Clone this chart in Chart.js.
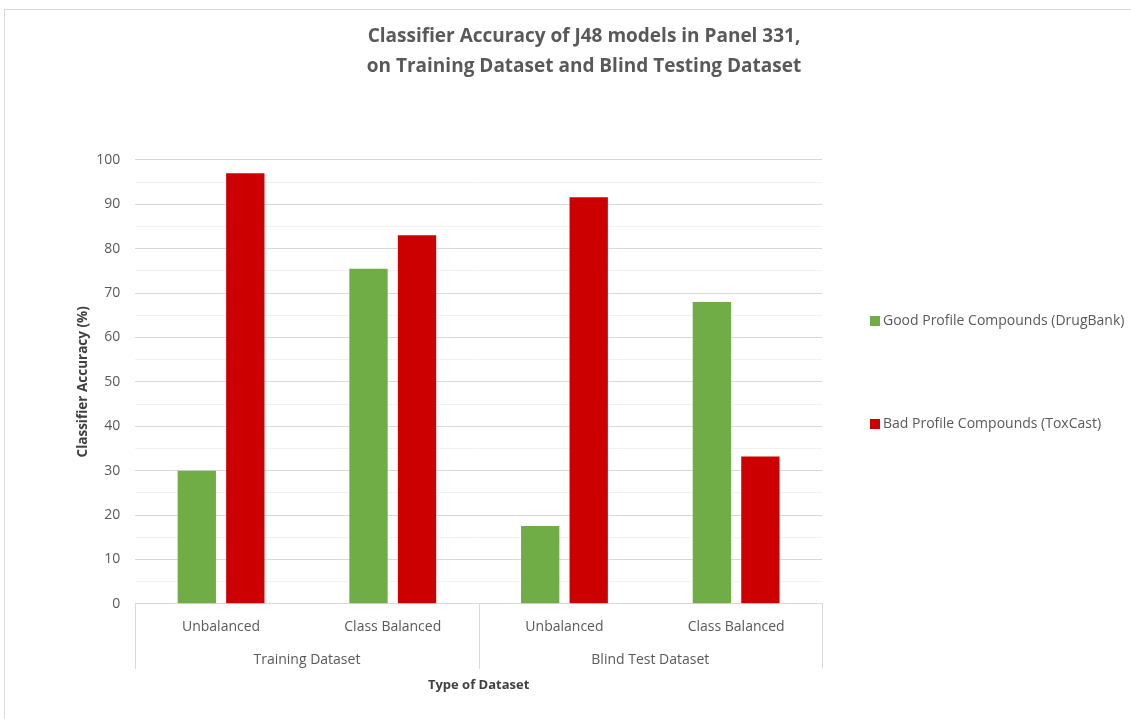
<!DOCTYPE html>
<html>
<head>
<meta charset="utf-8">
<script src="https://cdn.jsdelivr.net/npm/chart.js@4"></script>
<style>
  html, body { margin: 0; padding: 0; background: #fff; overflow: hidden; }
  #wrap { position: relative; width: 1131px; height: 719px; font-family: 'Open Sans', 'Liberation Sans', sans-serif; }
  #frame { position: absolute; left: 4px; top: 9px; width: 1140px; height: 720px; border: 1px solid #d9d9d9; }
  canvas { position: absolute; left: 0; top: 0; }
  .key { position: absolute; left: 870px; font-size: 14px; color: #595959; white-space: nowrap; line-height: 20px; }
  .key i { display: inline-block; width: 10px; height: 10px; margin-right: 3px; vertical-align: -0.5px; }
</style>
</head>
<body>
<div id="wrap">
  <div id="frame"></div>
  <canvas id="chart" width="1131" height="719"></canvas>
  <div id="legend"></div>
</div>
<script>
const categories = ["Unbalanced", "Class Balanced", "Unbalanced", "Class Balanced"];
const groups = ["Training Dataset", "Blind Test Dataset"];
const goodProfile = [30, 75.5, 17.5, 68];
const badProfile = [97, 83, 91.6, 33.2];
const seriesNames = ["Good Profile Compounds (DrugBank)", "Bad Profile Compounds (ToxCast)"];
const seriesColors = ["#70ad47", "#cc0000"];

const textColor = "#595959";
const gridColor = "#d9d9d9";
const font = "'Open Sans', 'Liberation Sans', sans-serif";

// vertical separators under the axis, at the outer edges and between the two groups
const groupLines = {
  id: "groupLines",
  afterDraw(chart) {
    const x = chart.scales.x;
    const ctx = chart.ctx;
    const mid = (x.left + x.right) / 2;
    ctx.save();
    ctx.strokeStyle = gridColor;
    ctx.lineWidth = 1;
    [x.left, mid, x.right].forEach(px => {
      ctx.beginPath();
      ctx.moveTo(Math.round(px) + 0.5, x.top);
      ctx.lineTo(Math.round(px) + 0.5, x.top + 65);
      ctx.stroke();
    });
    ctx.restore();
  }
};

// legend sits to the right of the plot, items spread apart like the Excel layout
function buildLegend(chart) {
  const box = document.getElementById("legend");
  const tops = [310, 413];
  chart.data.datasets.forEach((ds, i) => {
    const row = document.createElement("div");
    row.className = "key";
    row.style.top = tops[i] + "px";
    row.innerHTML = `<i style="background:${ds.backgroundColor}"></i>${ds.label}`;
    box.appendChild(row);
  });
}

function draw() {
  const chart = new Chart(document.getElementById("chart"), {
    type: "bar",
    data: {
      labels: categories,
      datasets: [
        { label: seriesNames[0], data: goodProfile, backgroundColor: seriesColors[0] },
        { label: seriesNames[1], data: badProfile, backgroundColor: seriesColors[1] }
      ]
    },
    options: {
      responsive: false,
      animation: false,
      categoryPercentage: 0.565,
      barPercentage: 0.79,
      layout: { padding: { left: 73, right: 36, bottom: 30 } },
      plugins: {
        title: {
          display: true,
          text: ["Classifier Accuracy of J48 models in Panel 331,", "on Training Dataset and Blind Testing Dataset"],
          color: textColor,
          font: { family: font, size: 19, weight: "bold", lineHeight: 1.55 },
          padding: { top: 22, bottom: 79 }
        },
        legend: { display: false },
        tooltip: { enabled: false }
      },
      scales: {
        x: {
          grid: { display: false },
          border: { color: gridColor },
          ticks: { color: textColor, font: { family: font, size: 14 }, padding: 7 }
        },
        x2: {
          type: "category",
          labels: groups,
          position: "bottom",
          offset: true,
          grid: { display: false },
          border: { display: false },
          ticks: { color: textColor, font: { family: font, size: 14 }, padding: 1 },
          title: {
            display: true,
            text: "Type of Dataset",
            color: "#404040",
            font: { family: font, size: 13, weight: "bold" },
            padding: { top: 8, bottom: -4 }
          }
        },
        y: {
          min: 0,
          max: 100,
          ticks: {
            stepSize: 5,
            color: textColor,
            font: { family: font, size: 14 },
            padding: 15,
            callback: v => (v % 10 === 0 ? v : "")
          },
          grid: {
            drawTicks: false,
            color: c => (c.tick && c.tick.value % 10 === 0 ? gridColor : "#f2f2f2")
          },
          border: { display: false },
          title: {
            display: true,
            text: "Classifier Accuracy (%)",
            color: "#404040",
            font: { family: font, size: 13.5, weight: "bold" },
            padding: { top: 2, bottom: -10 }
          }
        },
        // empty right-hand axis that keeps room for the legend column
        legendSpace: {
          type: "linear",
          position: "right",
          grid: { display: false },
          border: { display: false },
          ticks: { display: false },
          afterFit: s => { s.width = 273; }
        }
      }
    },
    plugins: [groupLines]
  });
  buildLegend(chart);
}

Promise.all([
  document.fonts.load("14px 'Open Sans'"),
  document.fonts.load("bold 19px 'Open Sans'")
]).then(draw, draw);
</script>
</body>
</html>
